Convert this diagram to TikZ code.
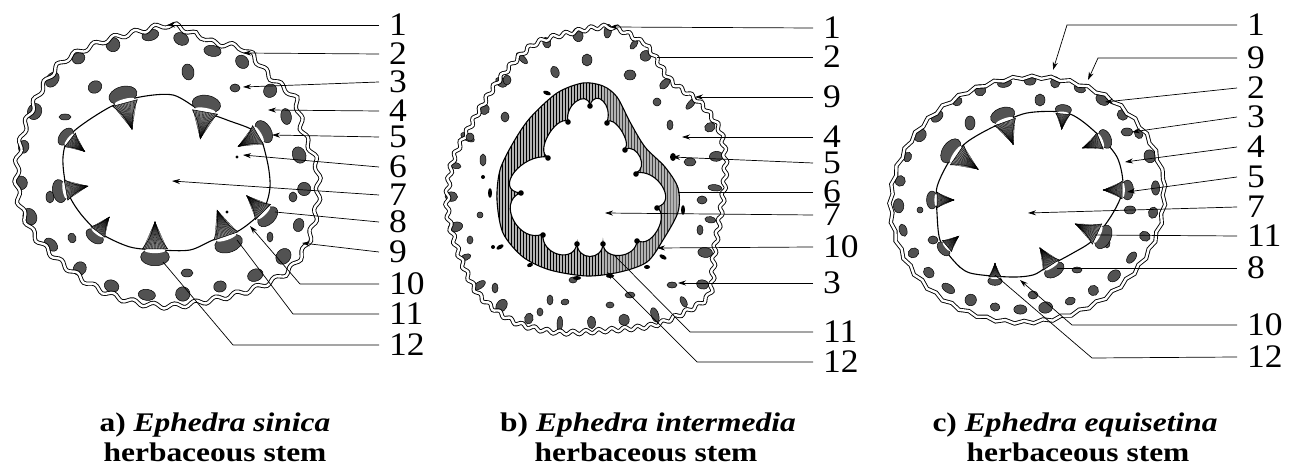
\documentclass[tikz,border=0pt]{standalone}
\usepackage{fontspec}
\setmainfont{Liberation Serif}
\newfontfamily\numfont{Liberation Serif}[FakeStretch=1.08]
\newfontfamily\capfont{Liberation Serif}[FakeStretch=1.17]
\usetikzlibrary{decorations.pathmorphing,decorations.markings,arrows.meta,patterns}
\tikzset{
  blobst/.style={fill=black!68, draw=black, line width=0.5bp},
  epi/.style={decorate, decoration={snake, amplitude=1.5bp, segment length=15bp}, double=white, double distance=2.4bp, line width=0.9bp, draw=black},
  stele/.style={draw=black, line width=1.1bp},
  lead/.style={draw=black, line width=0.7bp},
  arr/.style={lead, -{Stealth[length=8bp, width=5bp]}},
  numst/.style={font=\numfont\fontsize{33}{33}\selectfont, anchor=west, inner xsep=10bp, inner ysep=0bp},
  capst/.style={font=\capfont\bfseries\fontsize{27}{30}\selectfont, anchor=base, inner sep=0bp},
  vb/.pic={
    \fill[blobst] (-5pt,0pt) ellipse [x radius=5.5pt, y radius=9pt];
    \fill[white] (-1pt,0pt) ellipse [x radius=1.6pt, y radius=6.5pt];
    \filldraw[fill=black!45, draw=black, line width=0.5bp] (0pt,-8pt) .. controls (7pt,-3pt) .. (17pt,0pt) .. controls (7pt,3pt) .. (0pt,8pt) -- cycle;
    \foreach \t in {-7.5,-6.5,...,7.5} \draw[line width=0.3bp] (17pt,0pt) -- (0pt,\t pt);
  },
  edgeblobs/.style n args={4}{decoration={markings, mark=between positions 0.01 and 0.995 step #1 with {
      \pgfmathsetmacro\rra{#2+1.2*sin(97*\pgfkeysvalueof{/pgf/decoration/mark info/sequence number})}
      \pgfmathsetmacro\rrb{#3+1.0*cos(131*\pgfkeysvalueof{/pgf/decoration/mark info/sequence number})}
      \fill[blobst] (0pt,-#4pt) ellipse [x radius=\rra pt, y radius=\rrb pt];}}, decorate},
}
\begin{document}
\begin{tikzpicture}[x=1bp, y=-1bp]
\fill[white] (0,0) rectangle (1298,469);
\useasboundingbox (0,0) rectangle (1298,469);

% ================= panel a =================
\path[edgeblobs={0.042}{7.5}{6.2}{9}] plot[smooth cycle] coordinates {(167,24) (205,40) (240,48) (265,75) (290,97) (298,130) (312,165) (312,205) (302,243) (283,270) (250,287) (210,298) (165,305) (125,300) (90,286) (58,263) (30,235) (14,200) (12,163) (20,125) (35,90) (58,60) (98,40) (135,30)};
\draw[epi, decoration={snake, amplitude=2.4bp, segment length=21bp}] plot[smooth cycle] coordinates {(167,24) (205,40) (240,48) (265,75) (290,97) (298,130) (312,165) (312,205) (302,243) (283,270) (250,287) (210,298) (165,305) (125,300) (90,286) (58,263) (30,235) (14,200) (12,163) (20,125) (35,90) (58,60) (98,40) (135,30)};
\foreach \x/\y/\a/\b/\r in {188/72/6/8/10, 95/87/7/6/30, 235/88/5/4/0, 65/117/6/3/0, 50/197/4/6/0, 293/197/4/5/0, 72/238/4/5/20, 270/237/3/5/0, 187/273/6/4/0}
  \fill[blobst] (\x,\y) ellipse [x radius=\a, y radius=\b, rotate=\r];
\fill (237,157) circle (1.6);
\fill (227,212) circle (1.6);
\draw[stele] plot[smooth cycle] coordinates {(140,97) (173,95) (200,110) (227,120) (257,133) (267,160) (270,187) (263,210) (240,230) (213,240) (190,250) (160,250) (130,247) (100,233) (80,213) (67,190) (63,157) (72,133) (110,107)};
\pic[rotate=-75, scale=1.6] at (125,103) {vb};
\pic[rotate=-100, scale=1.6] at (205,112) {vb};
\pic[rotate=210, scale=1.35] at (258,135) {vb};
\pic[rotate=-38, scale=1.1] at (70,140) {vb};
\pic[rotate=10, scale=1.3] at (66,190) {vb};
\pic[rotate=53, scale=1.1] at (98,232) {vb};
\pic[rotate=90, scale=1.6] at (155,249) {vb};
\pic[rotate=109, scale=1.6] at (226,236) {vb};
\pic[rotate=135, scale=1.35] at (263,212) {vb};

\node[numst] (a1) at (379,25) {1};
\node[numst] (a2) at (379,54) {2};
\node[numst] (a3) at (379,82) {3};
\node[numst] (a4) at (379,111) {4};
\node[numst] (a5) at (379,137) {5};
\node[numst] (a6) at (379,167) {6};
\node[numst] (a7) at (379,195) {7};
\node[numst] (a8) at (379,222) {8};
\node[numst] (a9) at (379,252) {9};
\node[numst] (a10) at (379,284) {10};
\node[numst] (a11) at (379,314) {11};
\node[numst] (a12) at (379,345) {12};
\coordinate (a1t) at (167,25);
\coordinate (a2t) at (243,53);
\coordinate (a3t) at (243,87);
\coordinate (a4t) at (268,110);
\coordinate (a5t) at (272,135);
\coordinate (a6t) at (243,155);
\coordinate (a7t) at (172,181);
\coordinate (a8t) at (275,212);
\coordinate (a9t) at (302,243);
\coordinate (a10k) at (300,284);
\coordinate (a10t) at (250,226);
\coordinate (a11k) at (293,314);
\coordinate (a11t) at (237,240);
\coordinate (a12k) at (233,345);
\coordinate (a12t) at (163,262);
\draw[arr] (a1.west) -- (a1t);
\draw[arr] (a2.west) -- (a2t);
\draw[arr] (a3.west) -- (a3t);
\draw[arr] (a4.west) -- (a4t);
\draw[arr] (a5.west) -- (a5t);
\draw[arr] (a6.west) -- (a6t);
\draw[arr] (a7.west) -- (a7t);
\draw[lead] (a8.west) -- (a8t);
\draw[arr] (a9.west) -- (a9t);
\draw[arr] (a10.west) -- (a10k) -- (a10t);
\draw[lead] (a11.west) -- (a11k) -- (a11t);
\draw[lead] (a12.west) -- (a12k) -- (a12t);

% ================= panel b =================
\path[edgeblobs={0.035}{4}{6.5}{6.5}] plot[smooth cycle] coordinates {(610,25) (645,45) (668,78) (697,100) (717,127) (723,160) (720,200) (712,250) (707,292) (682,310) (650,323) (603,328) (557,330) (513,320) (477,293) (457,253) (445,207) (450,160) (470,120) (497,77) (530,43) (570,30)};
\draw[epi, decoration={snake, amplitude=1.8bp, segment length=13bp}] plot[smooth cycle] coordinates {(610,25) (645,45) (668,78) (697,100) (717,127) (723,160) (720,200) (712,250) (707,292) (682,310) (650,323) (603,328) (557,330) (513,320) (477,293) (457,253) (445,207) (450,160) (470,120) (497,77) (530,43) (570,30)};
\foreach \x/\y/\a/\b/\r in {587/60/5/6/0, 555/72/4/6/20, 630/75/6/5/0, 507/80/4/5/0, 657/102/4/4/0, 670/125/3/5/0, 505/117/4/5/0, 483/160/3/6/0, 470/137/4/4/0, 690/162/6/4/0, 702/200/5/4/0, 480/215/3/3/0, 573/280/4/3/0, 630/295/5/3/0, 565/302/4/3/10, 550/300/3/5/0, 495/288/3/5/0, 672/285/5/3/0, 540/312/3/4/0, 700/230/3/5/0, 470/240/3/4/0, 610/305/4/3/0}
  \fill[blobst] (\x,\y) ellipse [x radius=\a, y radius=\b, rotate=\r];
\foreach \x/\y/\a/\b/\r in {547/93/4/2/-20, 527/127/3/2/-40, 490/193/2/5/0, 500/247/4/2/30, 683/210/2/5/0, 663/257/4/2/-30, 647/267/3/2/0, 577/278/4/2/0, 610/276/4/2/0, 530/265/3/2/20, 673/157/3/4/0, 483/177/2/2/0, 493/247/2/2/0}
  \fill (\x,\y) ellipse [x radius=\a, y radius=\b, rotate=\r];
\path[fill=black!30, even odd rule]
  plot[smooth cycle] coordinates {(583,83) (603,86) (617,97) (630,122) (645,147) (665,167) (678,188) (678,212) (663,240) (647,262) (620,272) (587,276) (550,270) (523,257) (503,233) (497,200) (500,170) (513,143) (530,118) (557,93)}
  (590,105) .. controls (596,88.3) and (613,105.3) .. (607,122) .. controls (613.7,114.7) and (631.7,141.7) .. (625,149) .. controls (637.7,143.7) and (648.7,167.7) .. (636,173) .. controls (657,168) and (678,202) .. (657,207) .. controls (670.2,217.2) and (650.2,250.2) .. (637,240) .. controls (637,258.6) and (603,261.6) .. (603,243) .. controls (603,261) and (577,261) .. (577,243) .. controls (574.6,264) and (540.6,255) .. (543,234) .. controls (519.6,244.2) and (496.6,203.2) .. (520,193) .. controls (493.6,189.4) and (521.6,153.4) .. (548,157) .. controls (534.8,152.2) and (554.8,116.2) .. (568,121) .. controls (564.4,105.4) and (586.4,89.4) .. (590,105) -- cycle;
\path[pattern=vertical lines, even odd rule]
  plot[smooth cycle] coordinates {(583,83) (603,86) (617,97) (630,122) (645,147) (665,167) (678,188) (678,212) (663,240) (647,262) (620,272) (587,276) (550,270) (523,257) (503,233) (497,200) (500,170) (513,143) (530,118) (557,93)}
  (590,105) .. controls (596,88.3) and (613,105.3) .. (607,122) .. controls (613.7,114.7) and (631.7,141.7) .. (625,149) .. controls (637.7,143.7) and (648.7,167.7) .. (636,173) .. controls (657,168) and (678,202) .. (657,207) .. controls (670.2,217.2) and (650.2,250.2) .. (637,240) .. controls (637,258.6) and (603,261.6) .. (603,243) .. controls (603,261) and (577,261) .. (577,243) .. controls (574.6,264) and (540.6,255) .. (543,234) .. controls (519.6,244.2) and (496.6,203.2) .. (520,193) .. controls (493.6,189.4) and (521.6,153.4) .. (548,157) .. controls (534.8,152.2) and (554.8,116.2) .. (568,121) .. controls (564.4,105.4) and (586.4,89.4) .. (590,105) -- cycle;
\draw[stele] plot[smooth cycle] coordinates {(583,83) (603,86) (617,97) (630,122) (645,147) (665,167) (678,188) (678,212) (663,240) (647,262) (620,272) (587,276) (550,270) (523,257) (503,233) (497,200) (500,170) (513,143) (530,118) (557,93)};
\draw[stele] (590,105) .. controls (596,88.3) and (613,105.3) .. (607,122) .. controls (613.7,114.7) and (631.7,141.7) .. (625,149) .. controls (637.7,143.7) and (648.7,167.7) .. (636,173) .. controls (657,168) and (678,202) .. (657,207) .. controls (670.2,217.2) and (650.2,250.2) .. (637,240) .. controls (637,258.6) and (603,261.6) .. (603,243) .. controls (603,261) and (577,261) .. (577,243) .. controls (574.6,264) and (540.6,255) .. (543,234) .. controls (519.6,244.2) and (496.6,203.2) .. (520,193) .. controls (493.6,189.4) and (521.6,153.4) .. (548,157) .. controls (534.8,152.2) and (554.8,116.2) .. (568,121) .. controls (564.4,105.4) and (586.4,89.4) .. (590,105) -- cycle;
\foreach \x/\y in {590/106, 607/123, 625/150, 636/174, 657/208, 637/241, 603/244, 577/244, 543/235, 521/193, 548/158, 568/122}
  \fill (\x,\y) circle (2.8);

\node[numst] (b1) at (813,28) {1};
\node[numst] (b2) at (813,57) {2};
\node[numst] (b9) at (813,97) {9};
\node[numst] (b4) at (813,137) {4};
\node[numst] (b5) at (813,163) {5};
\node[numst] (b6) at (813,192) {6};
\node[numst] (b7) at (813,215) {7};
\node[numst] (b10) at (813,247) {10};
\node[numst] (b3) at (813,283) {3};
\node[numst] (b11) at (813,332) {11};
\node[numst] (b12) at (813,362) {12};
\coordinate (b1t) at (610,27);
\coordinate (b2t) at (657,57);
\coordinate (b9t) at (695,97);
\coordinate (b4t) at (682,137);
\coordinate (b5t) at (672,157);
\coordinate (b6t) at (678,192);
\coordinate (b7t) at (605,213);
\coordinate (b10t) at (657,248);
\coordinate (b3t) at (678,283);
\coordinate (b11k) at (690,332);
\coordinate (b11t) at (614,255);
\coordinate (b12k) at (697,362);
\coordinate (b12t) at (607,272);
\draw[arr] (b1.west) -- (b1t);
\draw[lead] (b2.west) -- (b2t);
\draw[arr] (b9.west) -- (b9t);
\draw[arr] (b4.west) -- (b4t);
\draw[arr] (b5.west) -- (b5t);
\draw[lead] (b6.west) -- (b6t);
\draw[arr] (b7.west) -- (b7t);
\draw[arr] (b10.west) -- (b10t);
\draw[arr] (b3.west) -- (b3t);
\draw[lead] (b11.west) -- (b11k) -- (b11t);
\draw[arr] (b12.west) -- (b12k) -- (b12t);

% ================= panel c =================
\path[edgeblobs={0.033}{6}{4.8}{8}] plot[domain=0:356, samples=90, smooth cycle, variable=\t] ({1027+137*cos(\t)*cos(10)+122*sin(\t)*sin(10)}, {195-137*cos(\t)*sin(10)+122*sin(\t)*cos(10)});
\draw[epi, decoration={snake, amplitude=1.4bp, segment length=19bp}] plot[domain=0:356, samples=90, smooth cycle, variable=\t] ({1027+137*cos(\t)*cos(10)+122*sin(\t)*sin(10)}, {195-137*cos(\t)*sin(10)+122*sin(\t)*cos(10)});
\foreach \x/\y/\a/\b/\r in {1040/100/5/6/0, 970/123/5/7/0, 920/210/3/3/0, 933/240/5/4/0, 1033/295/5/4/0, 1077/270/5/3/0, 1107/243/3/5/0, 1130/210/6/4/0, 1127/132/6/4/0}
  \fill[blobst] (\x,\y) ellipse [x radius=\a, y radius=\b, rotate=\r];
\draw[stele] plot[smooth cycle] coordinates {(1027,113) (1067,113) (1093,130) (1117,157) (1123,188) (1113,213) (1093,240) (1073,253) (1047,267) (1033,275) (1010,277) (970,273) (953,260) (940,240) (937,213) (937,187) (950,160) (967,142) (993,127)};
\pic[rotate=-70, scale=1.4] at (1005,122) {vb};
\pic[rotate=-95, scale=0.9] at (1063,114) {vb};
\pic[rotate=202, scale=1.1] at (1100,141) {vb};
\pic[rotate=180, scale=1.1] at (1122,190) {vb};
\pic[rotate=155, scale=1.4] at (1097,234) {vb};
\pic[rotate=123, scale=1.2] at (1051,265) {vb};
\pic[rotate=90, scale=0.8] at (995,277) {vb};
\pic[rotate=-34, scale=1.5] at (957,155) {vb};
\pic[rotate=0, scale=1.0] at (937,200) {vb};
\pic[rotate=40, scale=0.9] at (947,246) {vb};

\node[numst] (c1) at (1237,25) {1};
\node[numst] (c9) at (1237,58) {9};
\node[numst] (c2) at (1237,88) {2};
\node[numst] (c3) at (1237,117) {3};
\node[numst] (c4) at (1237,147) {4};
\node[numst] (c5) at (1237,177) {5};
\node[numst] (c7) at (1237,207) {7};
\node[numst] (c11) at (1237,236) {11};
\node[numst] (c8) at (1237,268) {8};
\node[numst] (c10) at (1237,325) {10};
\node[numst] (c12) at (1237,357) {12};
\coordinate (c1k) at (1067,25);
\coordinate (c1t) at (1053,70);
\coordinate (c9k) at (1098,58);
\coordinate (c9t) at (1088,80);
\coordinate (c2t) at (1105,102);
\coordinate (c3t) at (1132,132);
\coordinate (c4t) at (1125,162);
\coordinate (c5t) at (1127,192);
\coordinate (c7t) at (1028,213);
\coordinate (c11t) at (1095,235);
\coordinate (c8t) at (1057,268);
\coordinate (c10k) at (1072,325);
\coordinate (c10t) at (1020,280);
\coordinate (c12k) at (1092,358);
\coordinate (c12t) at (995,275);
\draw[arr] (c1.west) -- (c1k) -- (c1t);
\draw[arr] (c9.west) -- (c9k) -- (c9t);
\draw[arr] (c2.west) -- (c2t);
\draw[arr] (c3.west) -- (c3t);
\draw[arr] (c4.west) -- (c4t);
\draw[arr] (c5.west) -- (c5t);
\draw[arr] (c7.west) -- (c7t);
\draw[lead] (c11.west) -- (c11t);
\draw[lead] (c8.west) -- (c8t);
\draw[arr] (c10.west) -- (c10k) -- (c10t);
\draw[lead] (c12.west) -- (c12k) -- (c12t);

% ================= captions =================
\node[capst] (capa1) at (215,432) {a) \textit{Ephedra sinica}};
\node[capst] (capa2) at (215,462) {herbaceous stem};
\node[capst] (capb1) at (648,432) {b) \textit{Ephedra intermedia}};
\node[capst] (capb2) at (646,462) {herbaceous stem};
\node[capst] (capc1) at (1075,432) {c) \textit{Ephedra equisetina}};
\node[capst] (capc2) at (1078,462) {herbaceous stem};
\end{tikzpicture}
\end{document}
